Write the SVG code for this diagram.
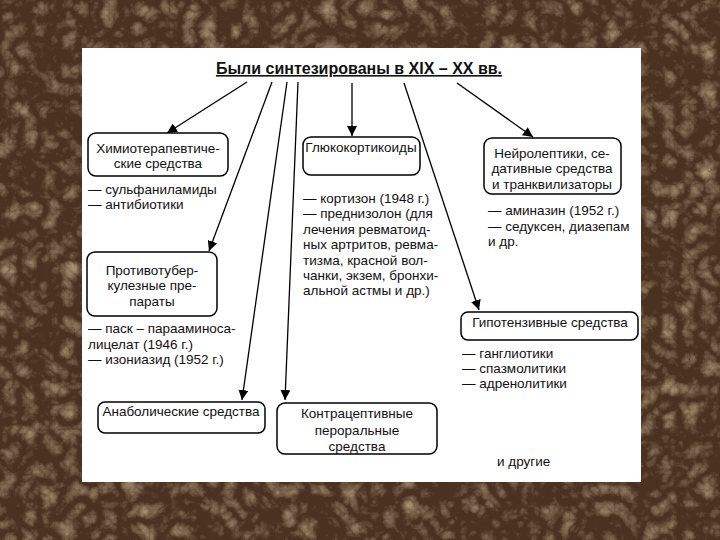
<svg xmlns="http://www.w3.org/2000/svg" width="720" height="540" viewBox="0 0 720 540">
<defs>
<filter id="tex" x="0" y="0" width="100%" height="100%">
<feTurbulence type="turbulence" baseFrequency="0.05" numOctaves="4" seed="7"/>
<feColorMatrix type="matrix" values="0 0 0 0 0.66  0 0 0 0 0.50  0 0 0 0 0.33  1.1 0 0 0 -0.25"/>
</filter>
<marker id="ah" viewBox="0 0 10 10" refX="10" refY="5" markerWidth="10" markerHeight="10" markerUnits="userSpaceOnUse" orient="auto">
<path d="M0,0 L10,5 L0,10 z" fill="#000"/>
</marker>
<style>
text{font-family:"Liberation Sans",Arial,sans-serif;fill:#111;font-size:13.5px}
.c{text-anchor:middle}
.t{font-size:16px;font-weight:bold;text-decoration:underline}
.box{fill:#fff;stroke:#000;stroke-width:1.5}
.ln{stroke:#000;stroke-width:1.3;fill:none}
</style>
</defs>
<rect width="720" height="540" fill="#4a3120"/>
<rect width="720" height="540" filter="url(#tex)"/>
<rect x="82" y="48" width="559" height="434" fill="#fff"/>

<text class="t c" x="359" y="74">Были синтезированы в XIX – XX вв.</text>

<g id="connectors">
<line class="ln" x1="247" y1="82" x2="167" y2="133" marker-end="url(#ah)"/>
<line class="ln" x1="272" y1="82" x2="209" y2="251" marker-end="url(#ah)"/>
<line class="ln" x1="287" y1="82" x2="242" y2="400" marker-end="url(#ah)"/>
<line class="ln" x1="298" y1="82" x2="285" y2="400" marker-end="url(#ah)"/>
<line class="ln" x1="352" y1="83" x2="352" y2="136" marker-end="url(#ah)"/>
<line class="ln" x1="404" y1="83" x2="479" y2="310" marker-end="url(#ah)"/>
<line class="ln" x1="457" y1="83" x2="533" y2="137" marker-end="url(#ah)"/>
</g>

<g id="chemo">
<rect class="box" x="88" y="133" width="140" height="43" rx="8"/>
<text class="c" x="158" y="153">Химиотерапевтиче-</text>
<text class="c" x="158" y="168">ские средства</text>
<text x="88" y="194">— сульфаниламиды</text>
<text x="88" y="209">— антибиотики</text>
</g>

<g id="tb">
<rect class="box" x="87" y="252" width="130" height="64" rx="8"/>
<text class="c" x="152" y="275">Противотубер-</text>
<text class="c" x="152" y="290">кулезные пре-</text>
<text class="c" x="152" y="306">параты</text>
<text x="88" y="333">— паск – парааминоса-</text>
<text x="88" y="349">лицелат (1946 г.)</text>
<text x="88" y="364">— изониазид (1952 г.)</text>
</g>

<g id="gluco">
<rect class="box" x="303" y="137" width="117" height="38" rx="8"/>
<text class="c" x="361" y="152">Глюкокортикоиды</text>
<text x="303" y="203">— кортизон (1948 г.)</text>
<text x="303" y="218">— преднизолон (для</text>
<text x="303" y="234">лечения ревматоид-</text>
<text x="303" y="249">ных артритов, ревма-</text>
<text x="303" y="265">тизма, красной вол-</text>
<text x="303" y="280">чанки, экзем, бронхи-</text>
<text x="303" y="295">альной астмы и др.)</text>
</g>

<g id="neuro">
<rect class="box" x="484" y="138" width="137" height="56" rx="8"/>
<text class="c" x="552" y="158">Нейролептики, се-</text>
<text class="c" x="552" y="173">дативные средства</text>
<text class="c" x="552" y="189">и транквилизаторы</text>
<text x="488" y="215">— аминазин (1952 г.)</text>
<text x="488" y="231">— седуксен, диазепам</text>
<text x="488" y="246">и др.</text>
</g>

<g id="hypo">
<rect class="box" x="461" y="312" width="177" height="28" rx="7"/>
<text class="c" x="550" y="327">Гипотензивные средства</text>
<text x="462" y="358">— ганглиотики</text>
<text x="462" y="373">— спазмолитики</text>
<text x="462" y="388">— адренолитики</text>
</g>

<g id="anabolic">
<rect class="box" x="98" y="402" width="167" height="31" rx="7"/>
<text class="c" x="181" y="416">Анаболические средства</text>
</g>

<g id="contra">
<rect class="box" x="277" y="403" width="160" height="51" rx="8"/>
<text class="c" x="357" y="418">Контрацептивные</text>
<text class="c" x="357" y="435">пероральные</text>
<text class="c" x="357" y="451">средства</text>
</g>

<text x="497" y="466">и другие</text>
</svg>
